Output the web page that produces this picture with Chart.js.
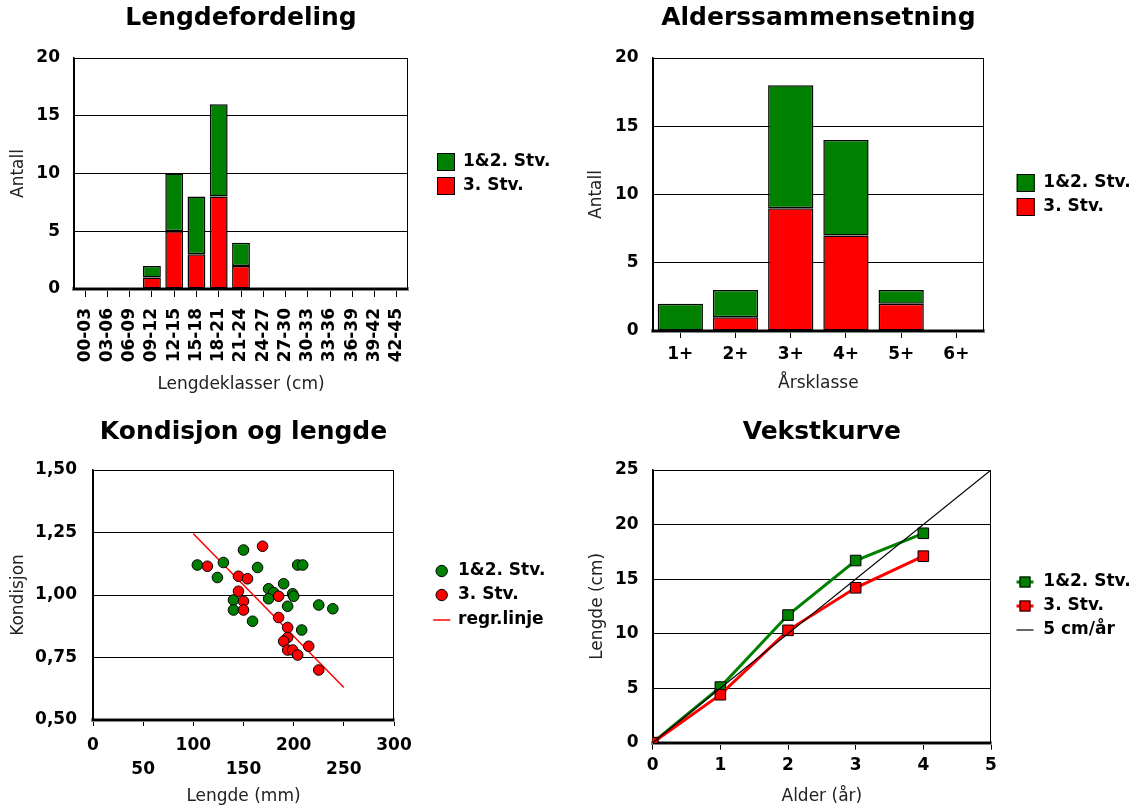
<!DOCTYPE html>
<html>
<head>
<meta charset="utf-8">
<title>Fiskeundersøkelse</title>
<script src="https://cdn.jsdelivr.net/npm/chart.js@4.4.0/dist/chart.umd.min.js"></script>
<style>
  body { margin: 0; background: #fff; }
  canvas { position: absolute; }
</style>
</head>
<body>
<canvas id="lengde" width="570" height="400" style="left:0;top:0"></canvas>
<canvas id="alder" width="571" height="400" style="left:570px;top:0"></canvas>
<canvas id="kondisjon" width="570" height="404" style="left:0;top:403px"></canvas>
<canvas id="vekst" width="571" height="404" style="left:570px;top:403px"></canvas>
<script>
// Lengdefordeling
const lengdeKlasser = ['00-03','03-06','06-09','09-12','12-15','15-18','18-21','21-24','24-27','27-30','30-33','33-36','36-39','39-42','42-45'];
const lengdeStv12 = [0,0,0,1,5,5,8,2,0,0,0,0,0,0,0];
const lengdeStv3  = [0,0,0,1,5,3,8,2,0,0,0,0,0,0,0];

// Alderssammensetning
const aarsKlasser = ['1+','2+','3+','4+','5+','6+'];
const alderStv12 = [2,2,9,7,1,0];
const alderStv3  = [0,1,9,7,2,0];

// Kondisjon og lengde (mm, kondisjon)
const kondStv12X = [104,130,150,124,164,204,209,175,180,190,199,200,175,140,140,194,225,239,159,208];
const kondStv12Y = [1.12,1.13,1.18,1.07,1.11,1.12,1.12,1.025,1.01,1.045,1.005,0.995,0.985,0.98,0.94,0.955,0.96,0.945,0.895,0.86];
const kondStv3X = [114,169,145,154,145,150,150,185,185,194,194,190,194,199,204,215,225];
const kondStv3Y = [1.115,1.195,1.075,1.065,1.015,0.975,0.94,0.995,0.91,0.87,0.83,0.815,0.78,0.78,0.76,0.795,0.70];
const regrX = [100,250];
const regrY = [1.245,0.63];

// Vekstkurve
const alderAar = [0,1,2,3,4];
const vekstStv12 = [0,5.1,11.7,16.7,19.2];
const vekstStv3  = [0,4.4,10.3,14.2,17.1];
const refAlder = [0,5];
const refLengde = [0,25];

const GRONN = '#008000';
const ROD = '#ff0000';

Chart.defaults.font.family = '"DejaVu Sans", Verdana, sans-serif';
Chart.defaults.color = '#000';
Chart.defaults.animation = false;

const punkter = (xs, ys) => xs.map((x, i) => ({x: x, y: ys[i]}));

// ramme rundt plottet
const ramme = {
  id: 'ramme',
  beforeDatasetsDraw(chart) {
    const a = chart.chartArea;
    const c = chart.ctx;
    const l = Math.round(a.left), t = Math.round(a.top), r = Math.round(a.right), b = Math.round(a.bottom);
    c.save();
    c.strokeStyle = '#000';
    c.lineWidth = 1;
    c.strokeRect(l + 0.5, t + 0.5, r - l - 1, b - t);
    c.lineWidth = 2;
    c.beginPath();
    c.moveTo(l, b);
    c.lineTo(r, b);
    c.stroke();
    c.restore();
  }
};

// egen tegnforklaring til høyre for plottet
const sideLegend = {
  id: 'sideLegend',
  afterDraw(chart, args, opts) {
    const a = chart.chartArea;
    const c = chart.ctx;
    const sets = chart.data.datasets;
    const midY = (a.top + a.bottom) / 2;
    const mx = a.right + opts.markX;
    c.save();
    c.font = 'bold 17px "DejaVu Sans"';
    c.textBaseline = 'middle';
    sets.forEach((ds, i) => {
      const y = Math.round(midY + (i - (sets.length - 1) / 2) * opts.rowH);
      c.strokeStyle = '#000';
      c.lineWidth = 1;
      if (chart.config.type === 'bar') {
        c.fillStyle = ds.backgroundColor;
        c.fillRect(mx - 9, y - 9, 18, 18);
        c.strokeRect(mx - 8.5, y - 8.5, 17, 17);
      } else if (ds.showLine === false) {
        c.fillStyle = ds.backgroundColor;
        c.beginPath();
        c.arc(mx, y, 5.7, 0, Math.PI * 2);
        c.fill();
        c.stroke();
      } else if (ds.pointRadius === 0) {
        c.strokeStyle = ds.borderColor;
        c.lineWidth = ds.borderWidth;
        c.beginPath();
        c.moveTo(mx - 8.5, y);
        c.lineTo(mx + 8.5, y);
        c.stroke();
      } else {
        c.strokeStyle = ds.borderColor;
        c.lineWidth = 3;
        c.beginPath();
        c.moveTo(mx - 8.5, y);
        c.lineTo(mx + 8.5, y);
        c.stroke();
        c.fillStyle = ds.backgroundColor;
        c.fillRect(mx - 5.5, y - 5.5, 11, 11);
        c.strokeStyle = '#000';
        c.lineWidth = 1;
        c.strokeRect(mx - 5, y - 5, 10, 10);
      }
      c.fillStyle = '#000';
      c.fillText(ds.label, a.right + opts.textX, y);
    });
    c.restore();
  }
};

const fetTick = {weight: 'bold', size: 17};
const aksetittel = (tekst, pad) => ({display: true, text: tekst, color: '#222', font: {size: 17}, padding: pad});
const tittel = (tekst, top, bottom) => ({
  display: true, text: tekst, fullSize: false, color: '#000',
  font: {size: 25, weight: 'bold'}, padding: {top: top, bottom: bottom}
});
const yAkse = (min, max, steg, bredde, tittelTekst, tpad, tickPad, cb) => ({
  min: min, max: max,
  ticks: {stepSize: steg, font: fetTick, padding: tickPad, callback: cb},
  grid: {color: '#000', drawTicks: false},
  border: {color: '#000', width: 1.5},
  title: aksetittel(tittelTekst, {top: tpad, bottom: 0}),
  afterFit: s => { s.width = bredde; }
});
const xKant = {color: '#888', width: 4};
const stolpe = (tekst, data, farge, rekke) => ({
  label: tekst, data: data, backgroundColor: farge, borderColor: '#000',
  borderWidth: 1.5, borderSkipped: false, inflateAmount: 0, order: rekke
});

new Chart(document.getElementById('lengde'), {
  type: 'bar',
  data: {
    labels: lengdeKlasser,
    datasets: [
      stolpe('1&2. Stv.', lengdeStv12, GRONN, 2),
      stolpe('3. Stv.', lengdeStv3, ROD, 1)
    ]
  },
  options: {
    responsive: false,
    layout: {padding: {left: 0, right: 162, top: 0, bottom: 0}},
    datasets: {bar: {barPercentage: 0.8, categoryPercentage: 1}},
    scales: {
      x: {
        stacked: true,
        grid: {offset: false, drawOnChartArea: false, tickLength: 8, color: '#000'},
        border: xKant,
        ticks: {font: fetTick, minRotation: 90, maxRotation: 90, padding: 11, autoSkip: false},
        title: aksetittel('Lengdeklasser (cm)', {top: 0, bottom: 5}),
        afterFit: s => { s.height = 111; }
      },
      y: Object.assign(yAkse(0, 20, 5, 74, 'Antall', 8, 14), {stacked: true})
    },
    plugins: {
      legend: {display: false},
      tooltip: {enabled: false},
      title: tittel('Lengdefordeling', 3, 25),
      sideLegend: {markX: 38, textX: 55, rowH: 24}
    }
  },
  plugins: [ramme, sideLegend]
});

new Chart(document.getElementById('alder'), {
  type: 'bar',
  data: {
    labels: aarsKlasser,
    datasets: [
      stolpe('1&2. Stv.', alderStv12, GRONN, 2),
      stolpe('3. Stv.', alderStv3, ROD, 1)
    ]
  },
  options: {
    responsive: false,
    layout: {padding: {left: 0, right: 157, top: 0, bottom: 0}},
    datasets: {bar: {barPercentage: 0.82, categoryPercentage: 1}},
    scales: {
      x: {
        stacked: true,
        grid: {offset: false, drawOnChartArea: false, tickLength: 7, color: '#000'},
        border: xKant,
        ticks: {font: fetTick, maxRotation: 0, padding: 6},
        title: aksetittel('Årsklasse', {top: 0, bottom: 6}),
        afterFit: s => { s.height = 69; }
      },
      y: Object.assign(yAkse(0, 20, 5, 82.7, 'Antall', 16, 14), {stacked: true})
    },
    plugins: {
      legend: {display: false},
      tooltip: {enabled: false},
      title: tittel('Alderssammensetning', 3, 25),
      sideLegend: {markX: 41.7, textX: 59.3, rowH: 24}
    }
  },
  plugins: [ramme, sideLegend]
});

new Chart(document.getElementById('kondisjon'), {
  type: 'scatter',
  data: {
    datasets: [
      {label: '1&2. Stv.', data: punkter(kondStv12X, kondStv12Y), showLine: false,
       backgroundColor: GRONN, borderColor: '#000', borderWidth: 1, pointRadius: 5.3, order: 2},
      {label: '3. Stv.', data: punkter(kondStv3X, kondStv3Y), showLine: false,
       backgroundColor: ROD, borderColor: '#000', borderWidth: 1, pointRadius: 5.3, order: 1},
      {label: 'regr.linje', data: punkter(regrX, regrY), showLine: true,
       borderColor: ROD, borderWidth: 1.5, pointRadius: 0, order: 3}
    ]
  },
  options: {
    responsive: false,
    layout: {padding: {left: 0, right: 176, top: 0, bottom: 0}},
    scales: {
      x: {
        type: 'linear', min: 0, max: 300,
        grid: {drawOnChartArea: false, tickLength: 6, color: '#000'},
        border: xKant,
        ticks: {
          stepSize: 50, autoSkip: false, maxRotation: 0, padding: 8,
          font: {weight: 'bold', size: 17, lineHeight: 1.4},
          callback: (v, i) => i % 2 === 0 ? [String(v), ''] : ['', String(v)]
        },
        title: aksetittel('Lengde (mm)', {top: 0, bottom: 0}),
        afterFit: s => { s.height = 87; }
      },
      y: yAkse(0.5, 1.5, 0.25, 93, 'Kondisjon', 8, 16, v => v.toFixed(2).replace('.', ','))
    },
    plugins: {
      legend: {display: false},
      tooltip: {enabled: false},
      title: tittel('Kondisjon og lengde', 14, 23),
      sideLegend: {markX: 47.7, textX: 64, rowH: 24.5}
    }
  },
  plugins: [ramme, sideLegend]
});

new Chart(document.getElementById('vekst'), {
  type: 'scatter',
  data: {
    datasets: [
      {label: '1&2. Stv.', data: punkter(alderAar, vekstStv12), showLine: true,
       borderColor: GRONN, backgroundColor: GRONN, borderWidth: 3,
       pointStyle: 'rect', pointRadius: 7.5, pointBorderColor: '#000', pointBorderWidth: 1, order: 3},
      {label: '3. Stv.', data: punkter(alderAar, vekstStv3), showLine: true,
       borderColor: ROD, backgroundColor: ROD, borderWidth: 3,
       pointStyle: 'rect', pointRadius: 7.5, pointBorderColor: '#000', pointBorderWidth: 1, order: 2},
      {label: '5 cm/år', data: punkter(refAlder, refLengde), showLine: true,
       borderColor: '#000', borderWidth: 1.2, pointRadius: 0, order: 1}
    ]
  },
  options: {
    responsive: false,
    layout: {padding: {left: 0, right: 150, top: 0, bottom: 0}},
    scales: {
      x: {
        type: 'linear', min: 0, max: 5,
        grid: {drawOnChartArea: false, tickLength: 7, color: '#000'},
        border: xKant,
        ticks: {stepSize: 1, font: fetTick, maxRotation: 0, padding: 6},
        title: aksetittel('Alder (år)', {top: 0, bottom: 0}),
        afterFit: s => { s.height = 64.3; }
      },
      y: yAkse(0, 25, 5, 82.7, 'Lengde (cm)', 17, 14)
    },
    plugins: {
      legend: {display: false},
      tooltip: {enabled: false},
      title: tittel('Vekstkurve', 14, 23),
      sideLegend: {markX: 34, textX: 52.3, rowH: 24}
    }
  },
  plugins: [ramme, sideLegend]
});
</script>
</body>
</html>
